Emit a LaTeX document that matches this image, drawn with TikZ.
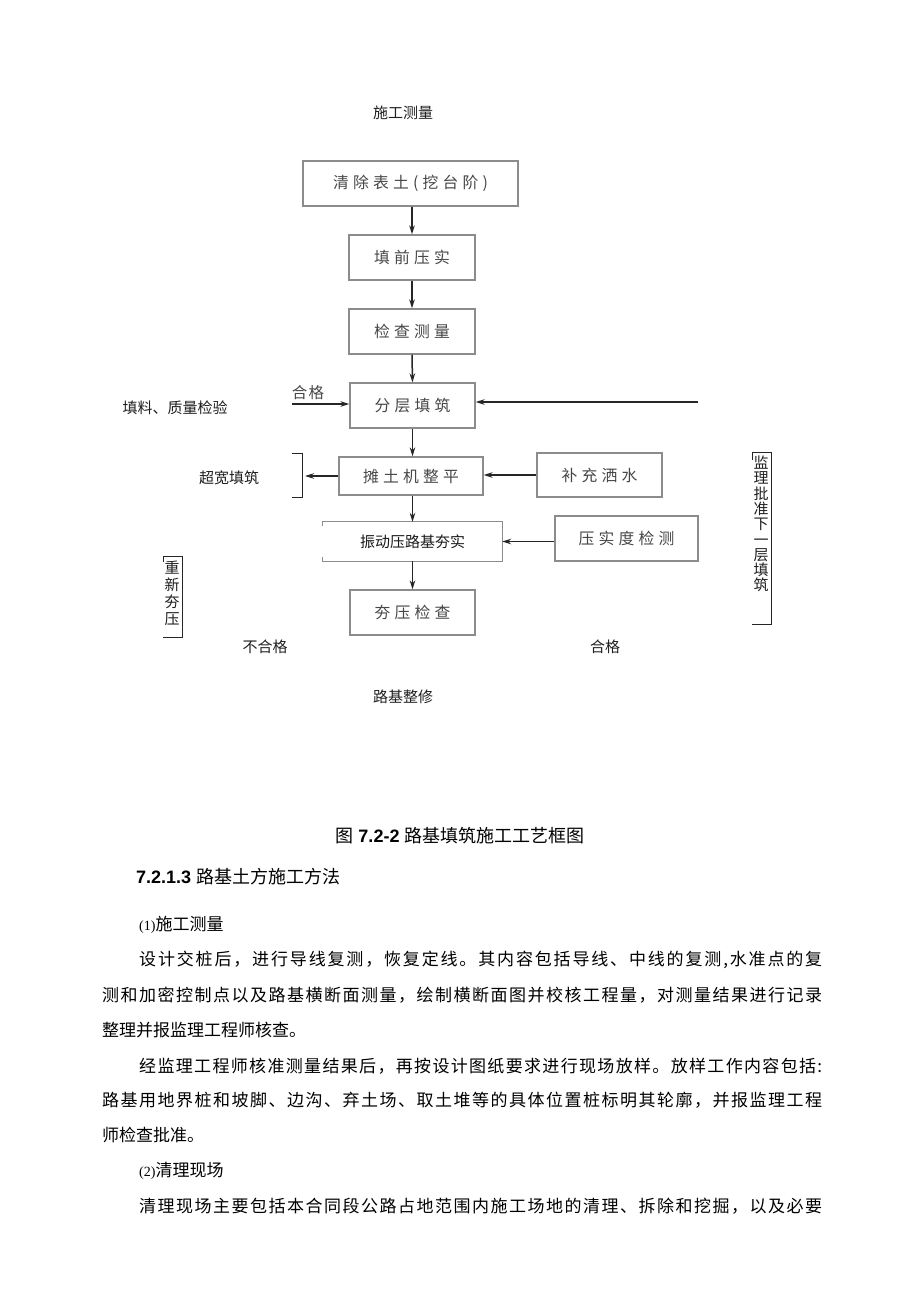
\documentclass[tikz,border=0pt]{standalone}
\usepackage{fontspec}
\setmainfont{Noto Sans CJK SC}
\setsansfont{Liberation Sans}
\newfontfamily\latinserif{Liberation Serif}
\usetikzlibrary{arrows.meta}
\definecolor{boxgray}{rgb}{0.55,0.55,0.55}
\definecolor{txtgray}{rgb}{0.28,0.28,0.28}
\definecolor{arrgray}{rgb}{0.15,0.15,0.15}
\makeatletter
\def\spreadtext#1#2{\def\my@gap{#1}\sp@first#2\relax}
\def\sp@first#1{#1\sp@rest}
\def\sp@rest#1{\ifx#1\relax\else\hskip\my@gap #1\expandafter\sp@rest\fi}
\makeatother
\newcommand\boxtext[1]{\spreadtext{4.2pt}{#1}}
\newcommand\jline[2]{\hbox to #1pt{\spreadtext{0pt plus 1fil}{#2}}}
\begin{document}
\begin{tikzpicture}[x=1pt,y=-1pt,
  box/.style={draw=boxgray,line width=1.3pt,inner sep=0pt,text=txtgray,font=\fontsize{15.8}{18}\selectfont},
  arr/.style={draw=arrgray,line width=1.5pt,-{Stealth[length=9pt,width=5.5pt]}},
  lbl/.style={inner sep=0pt,text=black!88,font=\fontsize{15}{18}\selectfont},
  vlbl/.style={inner sep=0pt,text=black!88,align=center},
  body/.style={inner sep=0pt,anchor=west,font=\fontsize{17}{20}\selectfont},
  brk/.style={draw=black!85,line width=1pt}]
\useasboundingbox[fill=white] (0,0) rectangle (920,1301);

% ---------- flow chart ----------
\node[lbl] (t0) at (403,113) {施工测量};
\node[box,minimum width=215pt,minimum height=45pt] (b1) at (410.5,183.5) {\boxtext{清除表土(挖台阶)}};
\node[box,minimum width=126pt,minimum height=45pt] (b2) at (412,257.5) {\boxtext{填前压实}};
\node[box,minimum width=126pt,minimum height=45pt] (b3) at (412,331.5) {\boxtext{检查测量}};
\node[box,minimum width=125pt,minimum height=45pt] (b4) at (412.5,405.5) {\boxtext{分层填筑}};
\node[box,minimum width=144pt,minimum height=38pt] (b5) at (411,476) {\boxtext{摊土机整平}};
\node[box,minimum width=125pt,minimum height=44pt] (b6) at (599.5,475) {\boxtext{补充洒水}};
\node[inner sep=0pt,minimum width=179pt,minimum height=39pt,text=black!90,font=\fontsize{15}{18}\selectfont] (b7) at (412.5,541.5) {振动压路基夯实};
\draw[draw=boxgray,line width=1.3pt] ([yshift=-4pt]b7.north west) -- (b7.north west) -- (b7.north east) -- (b7.south east) -- (b7.south west) -- ([yshift=4pt]b7.south west);
\node[box,minimum width=143pt,minimum height=45pt] (b8) at (626.5,538.5) {\boxtext{压实度检测}};
\node[box,minimum width=125pt,minimum height=45pt] (b9) at (412.5,612.5) {\boxtext{夯压检查}};

% vertical arrows
\draw[arr] (b1.south -| b2.north) -- (b2.north);
\draw[arr] (b2.south) -- (b3.north);
\draw[arr] (b3.south) -- (b4.north);
\draw[arr] (b4.south -| 412.5,0) -- (b5.north -| 412.5,0);
\draw[arr] (b5.south -| 412.5,0) -- (b7.north -| 412.5,0);
\draw[arr] (b7.south -| 412.5,0) -- (b9.north -| 412.5,0);

% horizontal arrows
\node[inner sep=0pt,text=txtgray,font=\fontsize{15.5}{18}\selectfont] (hg) at (308,393) {\spreadtext{1.5pt}{合格}};
\coordinate (hgs) at (292,404);
\draw[arr] (hgs) -- (hgs -| b4.west);
\coordinate (rrs) at (698,402);
\draw[arr] (rrs) -- (rrs -| b4.east);
\coordinate (cbk) at (305,476);
\draw[arr] (b5.west) -- (cbk |- b5.west);
\draw[arr] (b6.west) -- (b6.west -| b5.east);
\draw[arr] ([yshift=-3pt]b8.west) -- ([yshift=-3pt]b8.west -| b7.east);

% side labels and brackets
\node[lbl] (fl) at (175,408) {填料、质量检验};
\node[lbl] (ck) at (229,478) {超宽填筑};
\draw[brk] (292,453) -- (302,453) -- (302,497) -- (292,497);
\draw[brk] (163,562) -- (163,556) -- (182,556) -- (182,637) -- (163,637);
\node[vlbl,font=\fontsize{15}{17}\selectfont] (cx) at (172,593) {重\\新\\夯\\压};
\draw[brk] (752,460) -- (752,452) -- (771,452) -- (771,624) -- (752,624);
\node[vlbl,font=\fontsize{15}{15.3}\selectfont] (jl) at (761,524) {监\\理\\批\\准\\下\\一\\层\\填\\筑};
\node[lbl] (bhg) at (265,647) {不合格};
\node[lbl] (hg2) at (605,647) {合格};
\node[lbl] (zx) at (403,697) {路基整修};

% ---------- caption and text ----------
\node[inner sep=0pt,font=\fontsize{18}{20}\selectfont] (cap) at (460,836) {图\hspace{5pt}{\sffamily\bfseries 7.2-2}\hspace{5pt}路基填筑施工工艺框图};
\node[inner sep=0pt,anchor=west,font=\fontsize{18}{20}\selectfont] (hd) at (136,877) {{\sffamily\bfseries 7.2.1.3}\hspace{5pt}路基土方施工方法};
\node[body] (s1) at (139,925) {{\latinserif\fontsize{14}{16}\selectfont (1)}施工测量};
\node[body] (p1) at (139,960) {\jline{683}{设计交桩后，进行导线复测，恢复定线。其内容包括导线、中线的复测,水准点的复}};
\node[body] (p2) at (102,995) {\jline{720}{测和加密控制点以及路基横断面测量，绘制横断面图并校核工程量，对测量结果进行记录}};
\node[body] (p3) at (102,1030) {整理并报监理工程师核查。};
\node[body] (p4) at (139,1066) {\jline{683}{经监理工程师核准测量结果后，再按设计图纸要求进行现场放样。放样工作内容包括:}};
\node[body] (p5) at (102,1100) {\jline{720}{路基用地界桩和坡脚、边沟、弃土场、取土堆等的具体位置桩标明其轮廓，并报监理工程}};
\node[body] (p6) at (102,1135) {师检查批准。};
\node[body] (s2) at (139,1171) {{\latinserif\fontsize{14}{16}\selectfont (2)}清理现场};
\node[body] (p7) at (139,1206) {\jline{683}{清理现场主要包括本合同段公路占地范围内施工场地的清理、拆除和挖掘，以及必要}};
\end{tikzpicture}
\end{document}
